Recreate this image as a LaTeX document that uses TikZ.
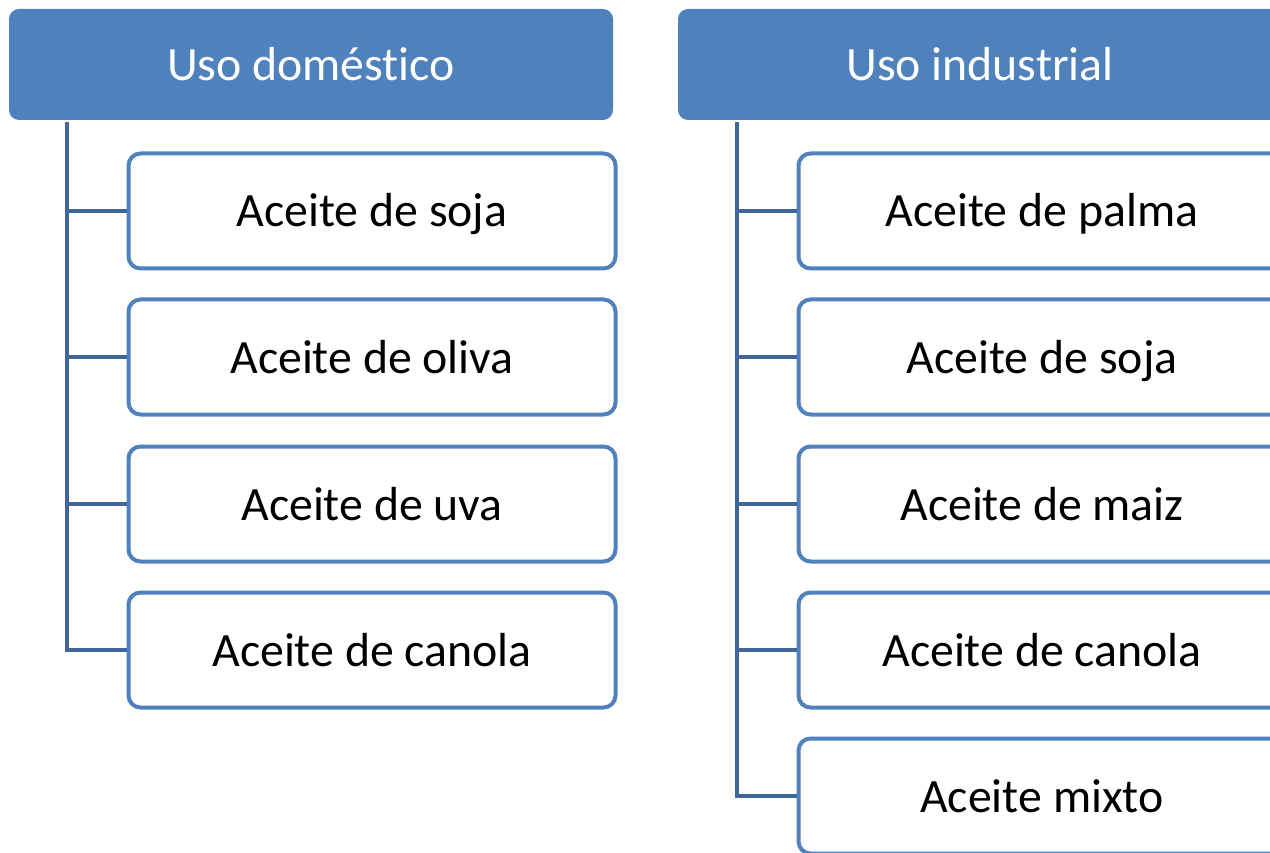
\documentclass[tikz,border=0pt]{standalone}
\usepackage{fontspec}
\setmainfont{Carlito}[Ligatures={NoCommon}]
\definecolor{hdr}{HTML}{4F81BD}
\definecolor{lnk}{HTML}{41679A}
\begin{document}
\begin{tikzpicture}[x=1pt,y=-1pt,
  header/.style={draw=none,fill=hdr,rounded corners=10pt,minimum width=604pt,minimum height=111pt,text=white,font=\fontsize{47.8}{56}\selectfont,inner sep=0pt,text height=33pt,text depth=1pt},
  item/.style={draw=hdr,line width=4pt,fill=white,rounded corners=12pt,minimum width=487pt,minimum height=115pt,font=\fontsize{47.8}{56}\selectfont,inner sep=0pt,text height=33pt,text depth=1pt},
  link/.style={draw=lnk,line width=4.5pt}]
\useasboundingbox (0,0) rectangle (1270,853);
\clip (0,0) rectangle (1270,853);
\fill[white] (0,0) rectangle (1270,853);
% left column
\node[header] (h1) at (311,64.5) {Uso domést\kern0pt ico};
\coordinate (t1) at (67,122);
\node[item] (a1) at (372,211) {Aceite de soja};
\node[item] (a2) at (372,357) {Aceite de oliva};
\node[item] (a3) at (372,504) {Aceite de uva};
\node[item] (a4) at (372,650) {Aceite de canola};
\coordinate (c4) at (67,650);
\draw[link] (t1) -- (c4) -- (a4.west);
\draw[link] (a1.west) -- (a1.west -| t1);
\draw[link] (a2.west) -- (a2.west -| t1);
\draw[link] (a3.west) -- (a3.west -| t1);
% right column
\node[header] (h2) at (980,64.5) {Uso industrial};
\coordinate (t2) at (737,122);
\node[item] (b1) at (1042,211) {Aceite de palma};
\node[item] (b2) at (1042,357) {Aceite de soja};
\node[item] (b3) at (1042,504) {Aceite de maiz};
\node[item] (b4) at (1042,650) {Aceite de canola};
\node[item] (b5) at (1042,796) {Aceite mixto};
\coordinate (c5) at (737,796);
\draw[link] (t2) -- (c5) -- (b5.west);
\draw[link] (b1.west) -- (b1.west -| t2);
\draw[link] (b2.west) -- (b2.west -| t2);
\draw[link] (b3.west) -- (b3.west -| t2);
\draw[link] (b4.west) -- (b4.west -| t2);
\end{tikzpicture}
\end{document}
